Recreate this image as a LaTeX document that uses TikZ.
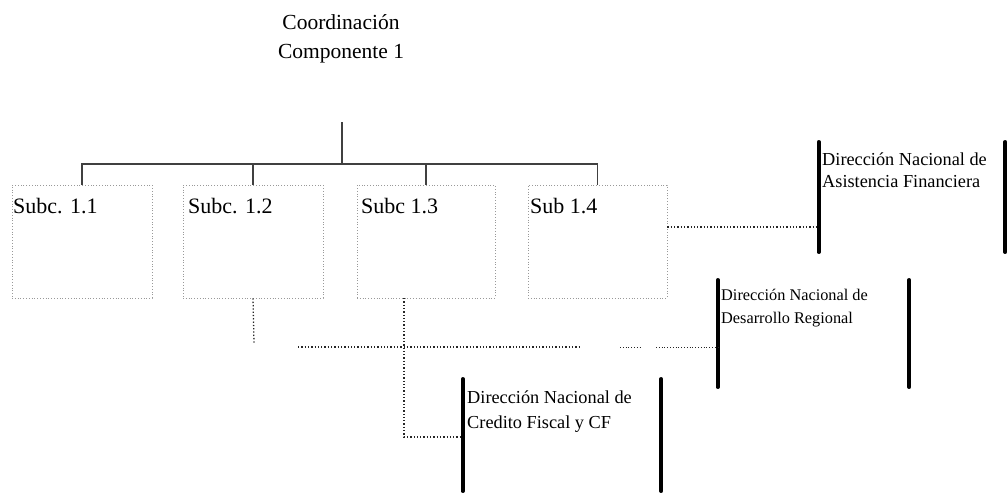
\documentclass[tikz,border=0pt]{standalone}
\usepackage{fontspec}
\setmainfont{Liberation Serif}
\begin{document}
\begin{tikzpicture}[x=1pt,y=-1pt,
  tree/.style={draw=black!75,line width=1.4pt},
  subbox/.style={draw=black!40,dotted,line width=0.8pt,minimum width=140pt,minimum height=113pt,inner sep=0pt},
  sublabel/.style={anchor=base west,font=\fontsize{22}{22}\selectfont,inner sep=0pt},
  dirbox/.style={inner sep=0pt},
  dirbar/.style={line width=3.5pt,line cap=round},
  dirtext/.style={anchor=base west,font=\fontsize{18.3}{18.3}\selectfont,inner sep=0pt},
  link/.style={dotted,line width=1.3pt,black!85}]
\useasboundingbox (0,0) rectangle (1007,493);
% title
\node[anchor=base,font=\fontsize{21.5}{21.5}\selectfont,inner sep=0pt] (t1) at (341,29) {Coordinación};
\node[anchor=base,font=\fontsize{21.5}{21.5}\selectfont,inner sep=0pt] (t2) at (341,58) {Componente 1};
\coordinate (ctop) at (342,122);
\coordinate (hub) at (342,164);
% boxes
\node[subbox] (b1) at (82,241.5) {};
\node[subbox] (b2) at (253,241.5) {};
\node[subbox,minimum width=138pt] (b3) at (426,241.5) {};
\node[subbox,minimum width=139pt] (b4) at (597.5,241.5) {};
\node[sublabel] (l1) at (13,213) {Subc. 1.1};
\node[sublabel] (l2) at (188,213) {Subc. 1.2};
\node[sublabel] (l3) at (361,213) {Subc 1.3};
\node[sublabel] (l4) at (530,213) {Sub 1.4};
% tree
\draw[tree] (ctop) -- (hub);
\draw[tree] (b1.north) |- (hub) -| (b4.north);
\draw[tree] (b2.north) |- (hub);
\draw[tree] (b3.north) |- (hub);
% direction units
\node[dirbox,minimum width=186pt,minimum height=110pt] (asis) at (912,197) {};
\draw[dirbar] (asis.north west) -- (asis.south west);
\draw[dirbar] (asis.north east) -- (asis.south east);
\node[dirtext] (at1) at (822,165) {Dirección Nacional de};
\node[dirtext] (at2) at (822,187) {Asistencia Financiera};
\node[dirbox,minimum width=191pt,minimum height=107pt] (desa) at (813.5,333.5) {};
\draw[dirbar] (desa.north west) -- (desa.south west);
\draw[dirbar] (desa.north east) -- (desa.south east);
\node[dirtext,font=\fontsize{16.3}{16.3}\selectfont] (dt1) at (721,300) {Dirección Nacional de};
\node[dirtext,font=\fontsize{16.3}{16.3}\selectfont] (dt2) at (721,323) {Desarrollo Regional};
\node[dirbox,minimum width=198pt,minimum height=112pt] (cred) at (562,435) {};
\draw[dirbar] (cred.north west) -- (cred.south west);
\draw[dirbar] (cred.north east) -- (cred.south east);
\node[dirtext] (ct1) at (467,403) {Dirección Nacional de};
\node[dirtext] (ct2) at (467,428) {Credito Fiscal y CF};
% dotted connectors
\draw[link] (b4.east |- 0,227) -- (asis.west |- 0,227);
\coordinate (b2end) at (254,343);
\draw[link] (b2.south) -- (b2end);
\coordinate (h1) at (298,347);
\coordinate (h2) at (580,347);
\coordinate (h3) at (620,347);
\coordinate (h4) at (640,347);
\coordinate (h5) at (656,347);
\draw[link] (h1) -- (h2);
\draw[link,line width=0.8pt] (h3) -- (h4);
\draw[link,line width=0.8pt] (h5) -- (desa.west |- h5);
\coordinate (b3s) at (404,298);
\draw[link] (b3s) |- (cred.west |- 0,437);
\end{tikzpicture}
\end{document}
